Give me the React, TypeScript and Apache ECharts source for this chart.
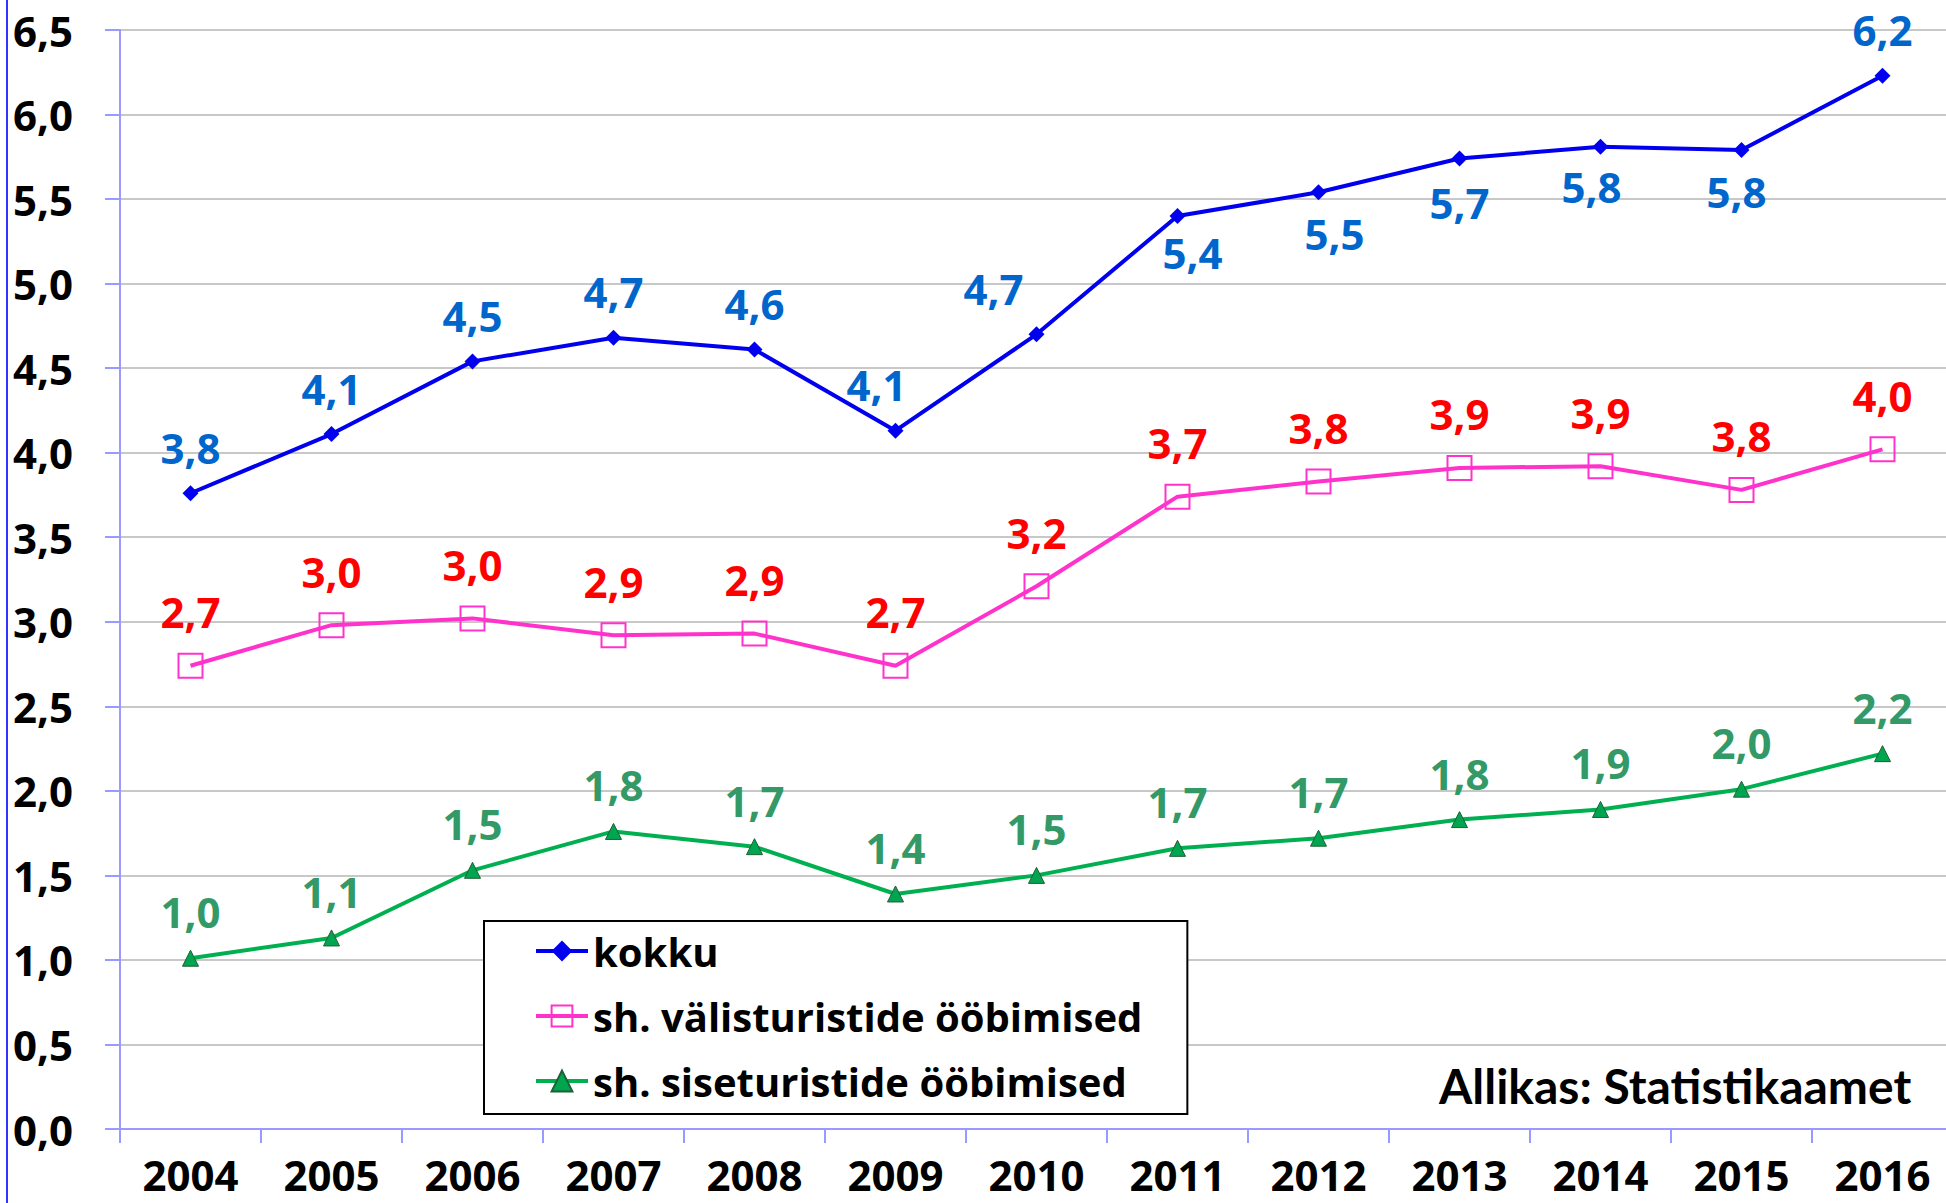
import React, { useEffect, useRef } from "react";
import * as echarts from "echarts";

const years = ["2004", "2005", "2006", "2007", "2008", "2009", "2010", "2011", "2012", "2013", "2014", "2015", "2016"];
const kokku = [3.76, 4.11, 4.54, 4.68, 4.61, 4.13, 4.7, 5.4, 5.54, 5.74, 5.81, 5.79, 6.23];
const valis = [2.74, 2.98, 3.02, 2.92, 2.93, 2.74, 3.21, 3.74, 3.83, 3.91, 3.92, 3.78, 4.02];
const sise = [1.01, 1.13, 1.53, 1.76, 1.67, 1.39, 1.5, 1.66, 1.72, 1.83, 1.89, 2.01, 2.22];
const seriesNames = ["kokku", "sh. välisturistide ööbimised", "sh. siseturistide ööbimised"];
const sourceText = "Allikas: Statistikaamet";
const yMin = 0;
const yMax = 6.5;
const yStep = 0.5;

const fmt = (v: number) => v.toFixed(1).replace(".", ",");
const FONT = "'Open Sans', 'DejaVu Sans', sans-serif";

// label placement tweaks for the "kokku" series (by year)
const kokkuLabelTweaks: Record<string, { position?: string; offset?: number[]; distance?: number }> = {
  "2009": { offset: [-19, 0] },
  "2010": { offset: [-43, 0] },
  "2011": { position: "bottom", offset: [15, 0], distance: 8 },
  "2012": { position: "bottom", offset: [16, 0], distance: 12 },
  "2013": { position: "bottom", offset: [0, 0], distance: 15 },
  "2014": { position: "bottom", offset: [-9, 0], distance: 11 },
  "2015": { position: "bottom", offset: [-5, 0], distance: 12 },
};

export default function App() {
  const ref = useRef<HTMLDivElement>(null);
  useEffect(() => {
    if (!ref.current) return;
    const chart = echarts.init(ref.current, null, { renderer: "svg" });
    const labelBase = {
      show: true,
      position: "top",
      fontFamily: FONT,
      fontWeight: "bold",
      fontSize: 42,
      formatter: (p: any) => fmt(p.value),
    };
    chart.setOption({
      animation: false,
      backgroundColor: "#ffffff",
      grid: { left: 120, top: 30, width: 1833, height: 1099, containLabel: false },
      legend: {
        orient: "vertical",
        left: 484,
        top: 921,
        data: seriesNames,
        itemWidth: 52,
        itemHeight: 26,
        itemGap: 25,
        padding: [10, 45, 13, 50],
        borderColor: "#000000",
        borderWidth: 2,
        backgroundColor: "#ffffff",
        lineStyle: { width: 4 },
        textStyle: { fontFamily: FONT, fontWeight: "bold", fontSize: 40, color: "#000000" },
      },
      xAxis: {
        type: "category",
        data: years,
        boundaryGap: true,
        axisLine: { lineStyle: { color: "#9999ff", width: 2 } },
        axisTick: { show: true, length: 14, alignWithLabel: false, lineStyle: { color: "#9999ff", width: 2 } },
        axisLabel: { fontFamily: FONT, fontWeight: "bold", fontSize: 42, color: "#000000", margin: 24 },
        splitLine: { show: false },
      },
      yAxis: {
        type: "value",
        min: yMin,
        max: yMax,
        interval: yStep,
        axisLine: { show: true, lineStyle: { color: "#9999ff", width: 2 } },
        axisTick: { show: true, length: 15, lineStyle: { color: "#9999ff", width: 2 } },
        axisLabel: { fontFamily: FONT, fontWeight: "bold", fontSize: 42, color: "#000000", margin: 47, formatter: (v: number) => fmt(v) },
        splitLine: { show: true, lineStyle: { color: "#c8c8c8", width: 2 } },
      },
      series: [
        {
          name: seriesNames[0],
          type: "line",
          z: 5,
          data: kokku.map((v, i) => {
            const t = kokkuLabelTweaks[years[i]];
            return t ? { value: v, label: { ...t } } : { value: v };
          }),
          symbol: "diamond",
          symbolSize: 16,
          lineStyle: { color: "#0000ee", width: 4 },
          itemStyle: { color: "#0000ee" },
          label: { ...labelBase, color: "#0066cc", distance: 17 },
        },
        {
          name: seriesNames[1],
          type: "line",
          z: 4,
          data: valis,
          symbol: "rect",
          symbolSize: 24,
          lineStyle: { color: "#ff33cc", width: 4 },
          itemStyle: { color: "rgba(255,255,255,0)", borderColor: "#ff33cc", borderWidth: 2 },
          label: { ...labelBase, color: "#ff0000", distance: 20 },
        },
        {
          name: seriesNames[2],
          type: "line",
          z: 3,
          data: sise,
          symbol: "triangle",
          symbolSize: 16,
          lineStyle: { color: "#00b050", width: 4 },
          itemStyle: { color: "#00a550", borderColor: "#1f5f35", borderWidth: 1 },
          label: { ...labelBase, color: "#339966", distance: 17 },
        },
      ],
      graphic: [
        {
          type: "line",
          shape: { x1: 7, y1: 0, x2: 7, y2: 1203 },
          style: { stroke: "#3333ff", lineWidth: 2 },
          silent: true,
        },
        {
          type: "text",
          left: 1439,
          top: 1061,
          style: {
            text: sourceText,
            fontFamily: "Lato, 'Open Sans', sans-serif",
            fontWeight: "bold",
            fontSize: 48,
            fill: "#000000",
          },
        },
      ],
    });
    return () => chart.dispose();
  }, []);
  return <div ref={ref} style={{ position: "fixed", left: 0, top: 0, width: 1960, height: 1203 }} />;
}
